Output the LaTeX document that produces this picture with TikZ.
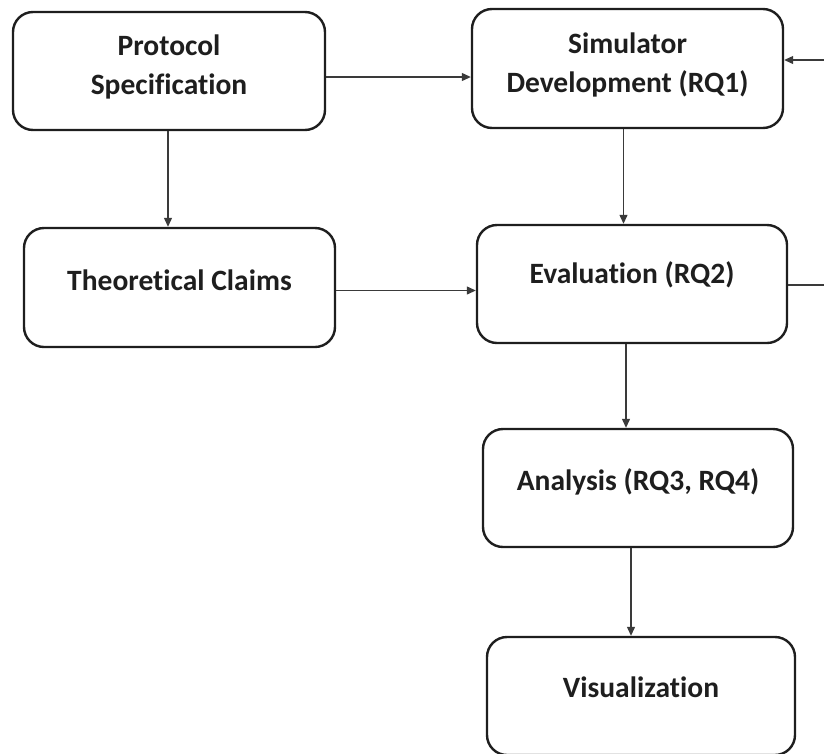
\documentclass[tikz,border=0pt]{standalone}
\usepackage{fontspec}
\setmainfont{Carlito}[Ligatures=NoCommon]
\usetikzlibrary{arrows.meta}
\definecolor{ink}{HTML}{1E1E1E}
\definecolor{wire}{HTML}{3A3A3A}
\newcommand{\lift}[2]{\raisebox{#1}[\height][\depth]{#2}}
\tikzset{
  stage/.style={draw=ink, line width=2.4pt, rounded corners=20pt, fill=white,
    minimum width=310pt, minimum height=118pt, inner sep=0pt,
    font=\fontsize{29.5}{38}\selectfont\bfseries, text=ink, align=center},
  flow/.style={draw=wire, line width=1.2pt, -{Triangle[length=9pt,width=8pt]}},
  flowline/.style={draw=wire, line width=1.2pt}
}
\begin{document}
\begin{tikzpicture}[x=1pt,y=-1pt]
  \useasboundingbox (0,0) rectangle (824,753);
  % process stages
  \node[stage, minimum width=312pt] (spec) at (169,71)
    {\lift{4pt}{\begin{tabular}{@{}c@{}}Protocol\\[1pt]Specification\end{tabular}}};
  \node[stage, minimum width=311pt, minimum height=119pt] (sim) at (627.5,68.5)
    {\lift{3pt}{\begin{tabular}{@{}c@{}}Simulator\\[1pt]Development (RQ1)\end{tabular}}};
  \node[stage, minimum width=311pt, minimum height=119pt] (claims) at (179.5,287.5)
    {\lift{7pt}{Theoretical Claims}};
  \node[stage] (eval) at (632,284) {\lift{9pt}{Evaluation (RQ2)}};
  \node[stage] (ana) at (638,488) {\lift{6pt}{Analysis (RQ3, RQ4)}};
  \node[stage, minimum width=308pt] (vis) at (641,696) {\lift{9pt}{Visualization}};
  % loose ends of the feedback loop at the right border
  \coordinate (fbout) at (824,285);
  \coordinate (fbin) at (824,60);
  % connectors
  \draw[flow] ([yshift=-6pt]spec.east) -- ([yshift=-6pt]spec.east -| sim.west);
  \draw[flow] ([xshift=-1pt]spec.south) -- ([xshift=-1pt]spec.south |- claims.north);
  \draw[flow] ([yshift=-3pt]claims.east) -- ([yshift=-3pt]claims.east -| eval.west);
  \draw[flow] ([xshift=-4pt]sim.south) -- ([xshift=-4pt]sim.south |- eval.north);
  \draw[flow] ([xshift=-6pt]eval.south) -- ([xshift=-6pt]eval.south |- ana.north);
  \draw[flow] ([xshift=-7pt]ana.south) -- ([xshift=-7pt]ana.south |- vis.north);
  \draw[flowline] (eval.east |- fbout) -- (fbout);
  \draw[flow] (fbin) -- (fbin -| sim.east);
\end{tikzpicture}
\end{document}
